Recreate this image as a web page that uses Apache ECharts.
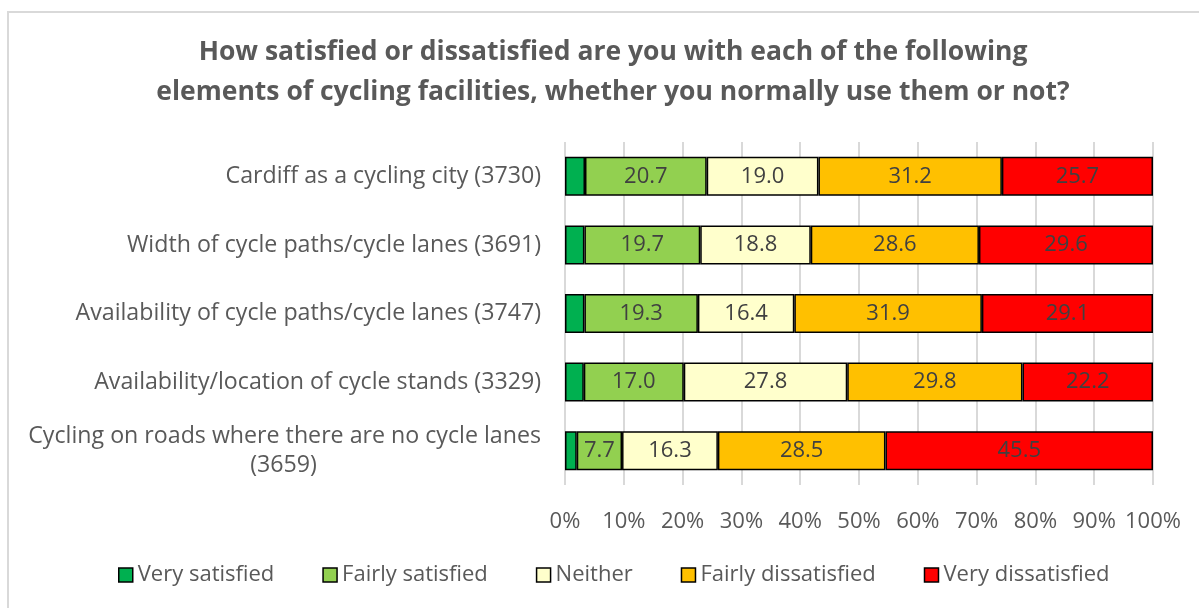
<!DOCTYPE html>
<html>
<head>
<meta charset="utf-8">
<script src="https://cdn.jsdelivr.net/npm/echarts@6/dist/echarts.min.js"></script>
<style>
  html, body { margin: 0; padding: 0; background: #fff; }
  #frame { position: absolute; left: 7px; top: 11px; width: 1300px; height: 700px; border-left: 2px solid #d9d9d9; border-top: 2px solid #d9d9d9; }
  #chart { width: 1199px; height: 608px; position: absolute; left: 0; top: 0; }
</style>
</head>
<body>
<div id="frame"></div>
<div id="chart"></div>
<script>
// categories, top to bottom
const categories = [
  'Cardiff as a cycling city (3730)',
  'Width of cycle paths/cycle lanes (3691)',
  'Availability of cycle paths/cycle lanes (3747)',
  'Availability/location of cycle stands (3329)',
  'Cycling on roads where there are no cycle lanes\n(3659)'
]
const veryDissatisfied = [25.7, 29.6, 29.1, 22.2, 45.5]
const fairlyDissatisfied = [31.2, 28.6, 31.9, 29.8, 28.5]
const neither = [19.0, 18.8, 16.4, 27.8, 16.3]
const fairlySatisfied = [20.7, 19.7, 19.3, 17.0, 7.7]
const verySatisfied = [3.4, 3.3, 3.3, 3.2, 2.0]

const seriesNames = ['Very satisfied', 'Fairly satisfied', 'Neither', 'Fairly dissatisfied', 'Very dissatisfied']
const seriesData = [verySatisfied, fairlySatisfied, neither, fairlyDissatisfied, veryDissatisfied]
const seriesColors = ['#00b050', '#92d050', '#ffffcc', '#ffc000', '#ff0000']

const FONT = 'Open Sans'
const FS = 23.2

const chart = echarts.init(document.getElementById('chart'), null, { renderer: 'canvas' })
chart.setOption({
  backgroundColor: 'transparent',
  textStyle: { fontFamily: FONT },
  title: {
    text: 'How satisfied or dissatisfied are you with each of the following\nelements of cycling facilities, whether you normally use them or not?',
    left: 608,
    textAlign: 'center',
    top: 27,
    textStyle: { fontFamily: FONT, fontSize: 26.5, fontWeight: 'bold', color: '#595959', lineHeight: 40 }
  },
  legend: {
    bottom: 17,
    left: 113,
    itemWidth: 14,
    itemHeight: 14,
    itemGap: 48,
    icon: 'rect',
    itemStyle: { borderColor: '#000', borderWidth: 1.5 },
    textStyle: { fontFamily: FONT, fontSize: 22, color: '#595959' },
    data: seriesNames
  },
  grid: { left: 565, right: 46, top: 142, bottom: 123 },
  xAxis: {
    type: 'value',
    min: 0,
    max: 100,
    interval: 10,
    axisLabel: { formatter: '{value}%', color: '#595959', fontSize: 22, margin: 26 },
    axisLine: { show: false },
    axisTick: { show: false },
    splitLine: { lineStyle: { color: '#d9d9d9', width: 2 } }
  },
  yAxis: {
    type: 'category',
    inverse: true,
    data: categories,
    axisLine: { show: false },
    axisTick: { show: false },
    axisLabel: {
      color: '#595959',
      fontSize: FS,
      lineHeight: 29,
      margin: 24,
      formatter: (v) => {
        const parts = v.split('\n')
        if (parts.length > 1) return parts[0] + '\n{c|' + parts[1] + '}'
        return v
      },
      rich: {
        c: { width: 515, align: 'center', fontSize: FS, lineHeight: 29, color: '#595959', fontFamily: FONT }
      }
    }
  },
  series: seriesNames.map((name, i) => ({
    name,
    type: 'bar',
    stack: 'total',
    barWidth: 39,
    data: seriesData[i],
    itemStyle: { color: seriesColors[i], borderColor: '#000', borderWidth: 1.5 },
    label: {
      show: i > 0,
      position: 'inside',
      color: '#404040',
      fontSize: 22,
      fontFamily: FONT,
      formatter: (p) => p.value.toFixed(1)
    }
  }))
})
</script>
</body>
</html>
